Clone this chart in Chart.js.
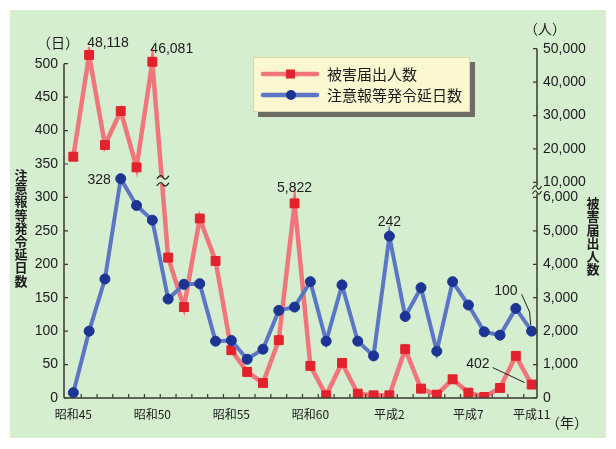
<!DOCTYPE html>
<html><head><meta charset="utf-8">
<script src="https://cdn.jsdelivr.net/npm/chart.js@4.4.0/dist/chart.umd.min.js"></script>
<style>html,body{margin:0;padding:0;background:#fff}#wrap{width:616px;height:449px;position:relative}</style>
</head><body><div id="wrap"><canvas id="c"></canvas></div>
<script>
const categories = ['昭和45','昭和46','昭和47','昭和48','昭和49','昭和50','昭和51','昭和52','昭和53','昭和54',
  '昭和55','昭和56','昭和57','昭和58','昭和59','昭和60','昭和61','昭和62','昭和63','平成元',
  '平成2','平成3','平成4','平成5','平成6','平成7','平成8','平成9','平成10','平成11'];
const xTickLabels = ['昭和45','昭和50','昭和55','昭和60','平成2','平成7','平成11'];
// 注意報等発令延日数 (日)
const warningDays = [8,100,178,328,288,266,148,170,171,85,86,58,73,131,136,174,85,169,85,63,242,122,165,70,174,139,99,94,134,100];
// 被害届出人数 (人)
const victims = [17680,48118,21180,31340,14500,46081,4200,2720,5370,4100,1430,780,450,1730,5822,960,80,1050,130,80,80,1460,280,100,560,160,30,300,1260,402];
const leftTicks = [0,50,100,150,200,250,300,350,400,450,500];
const rightTicks = [0,1000,2000,3000,4000,5000,6000,10000,20000,30000,40000,50000];
const rightTickLabels = ['0','1,000','2,000','3,000','4,000','5,000','6,000','10,000','20,000','30,000','40,000','50,000'];
const pointLabels = [
  {series:'victims', i:1, text:'48,118'},
  {series:'victims', i:5, text:'46,081'},
  {series:'days', i:3, text:'328'},
  {series:'victims', i:14, text:'5,822'},
  {series:'days', i:20, text:'242'},
  {series:'days', i:29, text:'100'},
  {series:'victims', i:29, text:'402'}
];

// broken right axis: 0-6,000 linear, then 10,000-50,000 compressed
function toUnits(v){ return v <= 6000 ? v/20 : 322.5 + (v-10000)/200; }

const BG = '#d5eecf';
const INK = '#1c1c1c';
const NUMFONT = '14px "Liberation Sans", Arial, sans-serif';
const JPFONT = '"Noto Sans CJK JP", sans-serif';

function tilde(ctx, x, y, w){
  ctx.beginPath();
  ctx.moveTo(x-w, y+1.5);
  ctx.bezierCurveTo(x-w*0.5, y-3, x-w*0.2, y-2, x, y);
  ctx.bezierCurveTo(x+w*0.2, y+2, x+w*0.5, y+3, x+w, y-1.5);
  ctx.stroke();
}

const decor = {
  id:'decor',
  beforeDraw(chart){
    const ctx = chart.ctx;
    ctx.save();
    ctx.fillStyle = '#ffffff';
    ctx.fillRect(0,0,chart.width,chart.height);
    ctx.fillStyle = BG;
    ctx.fillRect(10,10,596,428);
    ctx.restore();
  },
  afterDatasetsDraw(chart){
    const ctx = chart.ctx;
    const xs = chart.scales.x, yl = chart.scales.y, yr = chart.scales.y2;
    ctx.save();
    // break on red line between index 5 and 6
    const mv = chart.getDatasetMeta(1).data;
    const p5 = mv[5], p6 = mv[6];
    const by = yr.getPixelForValue(toUnits(10000)) - 2;
    const t = (by - p5.y)/(p6.y - p5.y);
    const bx = p5.x + t*(p6.x - p5.x) + 1;
    ctx.fillStyle = BG;
    ctx.fillRect(bx-8, by-2.5, 16, 6);
    ctx.strokeStyle = '#222';
    ctx.lineWidth = 1.3;
    tilde(ctx, bx, by-3, 6);
    tilde(ctx, bx, by+4, 6);

    // axes
    ctx.strokeStyle = '#3a3a30';
    ctx.lineWidth = 1.5;
    const x0 = xs.left, x1 = xs.right, y0 = yl.getPixelForValue(0);
    ctx.beginPath();
    ctx.moveTo(x0, y0); ctx.lineTo(x0, yl.getPixelForValue(500));
    ctx.moveTo(x0, y0); ctx.lineTo(x1, y0);
    // right axis with break
    const r6 = yr.getPixelForValue(toUnits(6000)), r10 = yr.getPixelForValue(toUnits(10000));
    const bm = (r6 + r10)/2;
    ctx.moveTo(x1, y0); ctx.lineTo(x1, bm+4);
    ctx.moveTo(x1, bm-4); ctx.lineTo(x1, yr.getPixelForValue(toUnits(50000)));
    ctx.stroke();
    ctx.lineWidth = 1.2;
    ctx.beginPath();
    leftTicks.forEach(v=>{ const y = yl.getPixelForValue(v); ctx.moveTo(x0, y); ctx.lineTo(x0+4, y); });
    rightTicks.forEach(v=>{ const y = yr.getPixelForValue(toUnits(v)); ctx.moveTo(x1, y); ctx.lineTo(x1-4, y); });
    for (let i=0;i<categories.length-1;i++){ const x = xs.getPixelForValue(i+0.5); ctx.moveTo(x, y0); ctx.lineTo(x, y0-4); }
    ctx.stroke();
    ctx.lineWidth = 1.1;
    ctx.strokeStyle = '#222';
    tilde(ctx, x1, bm-2.5, 4.5);
    tilde(ctx, x1, bm+2.5, 4.5);

    // axis titles / units
    ctx.fillStyle = INK;
    ctx.textAlign = 'center';
    ctx.textBaseline = 'middle';
    ctx.font = 'bold 13px ' + JPFONT;
    const lt = '注意報等発令延日数';
    [...lt].forEach((ch,k)=> ctx.fillText(ch, 21, 175 + k*13.2));
    const rt = '被害届出人数';
    [...rt].forEach((ch,k)=> ctx.fillText(ch, 593, 203 + k*13.3));
    ctx.font = '14px ' + JPFONT;
    ctx.fillText('（日）', 58, 43);
    ctx.fillText('（人）', 545, 29);
    ctx.fillText('（年）', 567, 423);

    // value labels
    ctx.font = NUMFONT;
    const metaOf = s => chart.getDatasetMeta(s === 'victims' ? 1 : 0).data;
    pointLabels.forEach(l=>{
      const p = metaOf(l.series)[l.i];
      let x=p.x, y=p.y, align='center';
      if (l.text==='48,118'){ x=p.x-2; y=p.y-12; align='left'; }
      else if (l.text==='46,081'){ x=p.x-2; y=p.y-13; align='left'; }
      else if (l.text==='328'){ x=p.x-10; y=p.y+1; align='right'; }
      else if (l.text==='5,822'){ y=p.y-15; }
      else if (l.text==='242'){ y=p.y-14; }
      else if (l.text==='100'){ x=p.x-14; y=p.y-40; align='right'; }
      else if (l.text==='402'){ x=p.x-42; y=p.y-20; align='right'; }
      ctx.textAlign = align;
      ctx.fillText(l.text, x, y);
    });
    // leader lines
    ctx.strokeStyle = '#222';
    ctx.lineWidth = 1;
    const pb = metaOf('days')[29], pr = metaOf('victims')[29];
    ctx.beginPath();
    ctx.moveTo(pb.x-10, pb.y-37); ctx.lineTo(pb.x-2, pb.y-19); ctx.lineTo(pb.x-1, pb.y-6);
    ctx.moveTo(pr.x-39, pr.y-17); ctx.lineTo(pr.x-7, pr.y-2);
    ctx.stroke();

    // legend
    const lx=253, ly=57, lw=217, lh=55;
    ctx.fillStyle = '#6e6e66';
    ctx.fillRect(lx+5, ly+5, lw, lh);
    ctx.fillStyle = '#fbf7d0';
    ctx.fillRect(lx, ly, lw, lh);
    ctx.strokeStyle = '#ddd6a6';
    ctx.lineWidth = 1;
    ctx.strokeRect(lx+0.5, ly+0.5, lw-1, lh-1);
    const rows = [
      {y:74, line:'rgb(240,118,124)', mark:'rgb(226,34,44)', shape:'rect', text:'被害届出人数'},
      {y:95, line:'rgb(92,118,198)', mark:'rgb(28,52,148)', shape:'circle', text:'注意報等発令延日数'}
    ];
    rows.forEach(r=>{
      ctx.strokeStyle = r.line; ctx.lineWidth = 4.5; ctx.lineCap='round';
      ctx.beginPath(); ctx.moveTo(263, r.y); ctx.lineTo(317, r.y); ctx.stroke();
      ctx.fillStyle = r.mark;
      if (r.shape==='rect') ctx.fillRect(286, r.y-4.5, 9, 9);
      else { ctx.beginPath(); ctx.arc(291, r.y, 5, 0, Math.PI*2); ctx.fill(); }
      ctx.fillStyle = INK; ctx.textAlign='left'; ctx.font = '15px ' + JPFONT;
      ctx.fillText(r.text, 327, r.y);
    });
    ctx.restore();
  }
};

const daysData = warningDays.map((v,i)=>({x:i, y:v}));
const victimsData = victims.map((v,i)=>({x:i, y:toUnits(v)}));

new Chart(document.getElementById('c'), {
  type:'line',
  data:{ datasets:[
    { label:'注意報等発令延日数', data:daysData, yAxisID:'y',
      borderColor:'rgb(92,118,198)', borderWidth:4, pointRadius:5, pointStyle:'circle',
      pointBackgroundColor:'rgb(28,52,148)', pointBorderColor:'rgb(28,52,148)', pointBorderWidth:1, tension:0 },
    { label:'被害届出人数', data:victimsData, yAxisID:'y2',
      borderColor:'rgb(240,118,124)', borderWidth:4.5, pointRadius:6.3, pointStyle:'rect',
      pointBackgroundColor:'rgb(226,34,44)', pointBorderColor:'rgb(226,34,44)', pointBorderWidth:1, tension:0 }
  ]},
  options:{
    responsive:true, maintainAspectRatio:false, animation:false, devicePixelRatio:1,
    layout:{ padding:{ top:47, left:0, right:0, bottom:0 } },
    plugins:{ legend:{display:false}, tooltip:{enabled:false} },
    scales:{
      x:{ type:'linear', min:-0.59, max:29.34,
        grid:{display:false, drawTicks:false}, border:{display:false},
        afterBuildTicks(s){ s.ticks = categories.map((c,i)=>({value:i})); },
        afterFit(s){ s.height = 51; },
        ticks:{ autoSkip:false, maxRotation:0, padding:9, color:INK,
          font:{family:'"Noto Sans CJK JP", sans-serif', size:12},
          callback:(v)=> xTickLabels.includes(categories[v]) ? categories[v] : '' } },
      y:{ type:'linear', position:'left', min:0, max:525,
        grid:{display:false, drawTicks:false}, border:{display:false},
        afterBuildTicks(s){ s.ticks = leftTicks.map(v=>({value:v})); },
        afterFit(s){ s.width = 64; },
        ticks:{ padding:6, color:INK, font:{family:'"Liberation Sans", Arial, sans-serif', size:14},
          callback:(v)=> String(v) } },
      y2:{ type:'linear', position:'right', min:0, max:525,
        grid:{display:false, drawTicks:false}, border:{display:false},
        afterBuildTicks(s){ s.ticks = rightTicks.map(v=>({value:toUnits(v)})); },
        afterFit(s){ s.width = 79; },
        ticks:{ padding:6, color:INK, font:{family:'"Liberation Sans", Arial, sans-serif', size:14},
          callback:(v,idx)=> rightTickLabels[idx] } }
    }
  },
  plugins:[decor]
});
</script>
</body></html>
